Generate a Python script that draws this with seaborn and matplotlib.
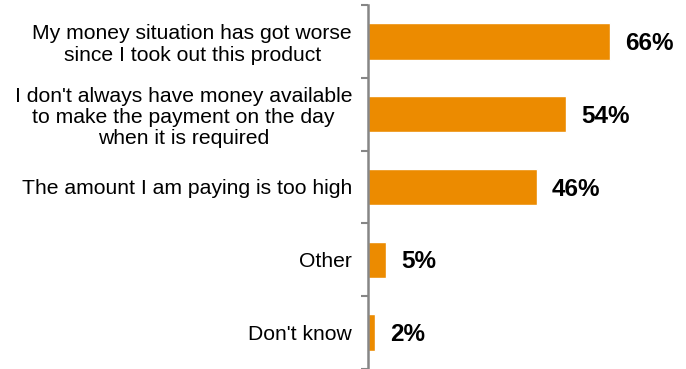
import matplotlib
matplotlib.use("Agg")
import matplotlib.pyplot as plt
import seaborn as sns
import pandas as pd
import numpy as np

categories = [
    "My money situation has got worse\nsince I took out this product",
    "I don't always have money available\nto make the payment on the day\nwhen it is required",
    "The amount I am paying is too high",
    "Other",
    "Don't know",
]
values = [66, 54, 46, 5, 2]
value_labels = ["66%", "54%", "46%", "5%", "2%"]

df = pd.DataFrame({"reason": categories, "pct": values})

sns.set_theme(style="white")
plt.rcParams["font.family"] = ["Liberation Sans", "DejaVu Sans"]

fig = plt.figure(figsize=(6.86, 3.69), dpi=100)
ax = fig.add_axes([368 / 686, 0.0, 1 - 368 / 686, 1 - 5 / 369])

sns.barplot(data=df, x="pct", y="reason", orient="h", color="#EC8B00",
            saturation=1, width=0.5, ax=ax)

ax.set_xlim(0, 86.8)
ax.set_ylim(len(categories) - 0.5, -0.5)

for sp in ["top", "right", "bottom"]:
    ax.spines[sp].set_visible(False)
ax.spines["left"].set_color("#868686")
ax.spines["left"].set_linewidth(1.8)

ax.set_xticks([])
ax.set_xlabel("")
ax.set_ylabel("")

# category labels at bar centres, tick marks at category boundaries
ax.set_yticks(range(len(categories)))
ax.set_yticklabels(categories, fontsize=15.2, linespacing=1.15,
                   multialignment="center")
ax.tick_params(axis="y", which="major", length=0, pad=11.5, labelcolor="#000000")
ax.set_yticks(np.arange(-0.5, len(categories) - 0.4, 1.0), minor=True)
ax.tick_params(axis="y", which="minor", length=5, width=1.5,
               color="#868686", direction="out", left=True)

for i, (v, lab) in enumerate(zip(values, value_labels)):
    ax.annotate(lab, xy=(v, i), xytext=(11, -1.5), textcoords="offset points",
                ha="left", va="center", fontsize=17.5, fontweight="bold",
                color="#000000")

fig.savefig("out.png", dpi=100, facecolor="white")
